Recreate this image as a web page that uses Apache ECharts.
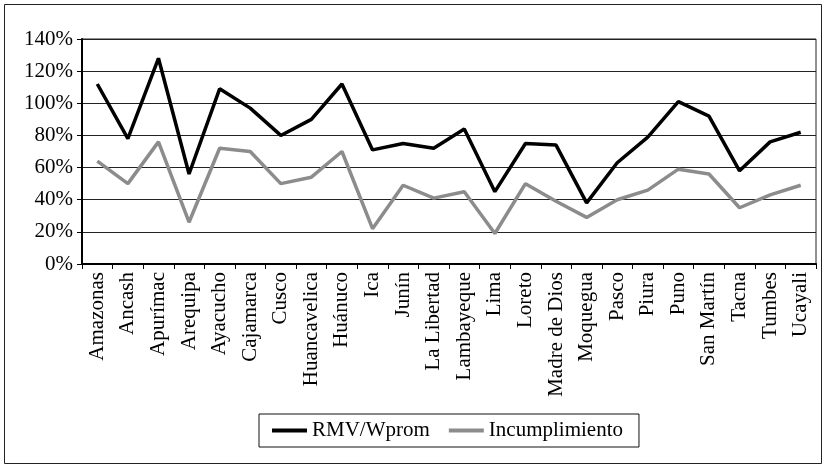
<!DOCTYPE html>
<html>
<head>
<meta charset="utf-8">
<script src="https://cdn.jsdelivr.net/npm/echarts@6/dist/echarts.min.js"></script>
<style>html,body{margin:0;padding:0;background:#fff}#c{width:825px;height:468px}</style>
</head>
<body>
<div id="c"></div>
<script>
const categories = ["Amazonas","Ancash","Apurímac","Arequipa","Ayacucho","Cajamarca","Cusco","Huancavelica","Huánuco","Ica","Junín","La Libertad","Lambayeque","Lima","Loreto","Madre de Dios","Moquegua","Pasco","Piura","Puno","San Martín","Tacna","Tumbes","Ucayali"];
const rmvWprom = [112,78,128,56,109,97,80,90,112,71,75,72,84,45,75,74,38,63,79,101,92,58,76,82];
const incumplimiento = [64,50,76,26,72,70,50,54,70,22,49,41,45,19,50,39,29,40,46,59,56,35,43,49];
const yTicks = {min:0,max:140,interval:20};
const FONT = '"Liberation Serif","Times New Roman",serif';

const chart = echarts.init(document.getElementById('c'), null, {renderer:'canvas'});
chart.setOption({
  animation:false,
  backgroundColor:'#fff',
  graphic:[{type:'rect',shape:{x:4.5,y:4.5,width:817,height:459},style:{fill:'none',stroke:'#222',lineWidth:1},silent:true}],
  grid:{left:82,right:9,top:39,bottom:204,show:true,borderColor:'#222',borderWidth:1},
  legend:{
    left:259, top:414,
    padding:[6,16,6,13],
    borderColor:'#111', borderWidth:1,
    icon:'rect',
    itemWidth:35, itemHeight:4, itemGap:19,
    textStyle:{fontFamily:FONT,fontSize:21,color:'#000'},
    data:['RMV/Wprom','Incumplimiento']
  },
  xAxis:{
    type:'category', data:categories, boundaryGap:true,
    axisLine:{lineStyle:{color:'#000',width:2}},
    axisTick:{show:true,length:5,lineStyle:{color:'#000'}},
    axisLabel:{rotate:90,fontFamily:FONT,fontSize:21,color:'#000',margin:8,interval:0}
  },
  yAxis:{
    type:'value', min:yTicks.min, max:yTicks.max, interval:yTicks.interval,
    axisLine:{show:true,lineStyle:{color:'#000',width:2}},
    axisTick:{show:true,length:5,lineStyle:{color:'#000'}},
    splitLine:{lineStyle:{color:'#222',width:1}},
    axisLabel:{formatter:'{value}%',fontFamily:FONT,fontSize:21,color:'#000',margin:9}
  },
  series:[
    {name:'RMV/Wprom',type:'line',data:rmvWprom,symbol:'none',lineStyle:{color:'#000',width:3.5},itemStyle:{color:'#000'}},
    {name:'Incumplimiento',type:'line',data:incumplimiento,symbol:'none',lineStyle:{color:'#8c8c8c',width:3.5},itemStyle:{color:'#8c8c8c'}}
  ]
});
</script>
</body>
</html>
